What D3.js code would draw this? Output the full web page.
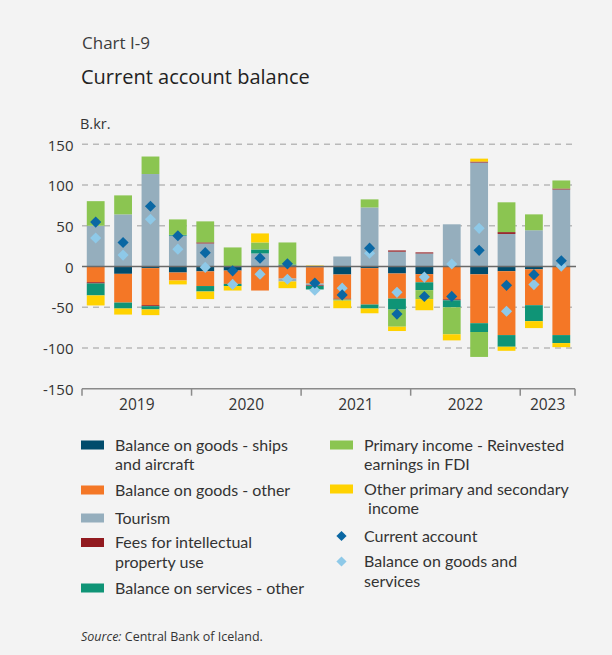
<!DOCTYPE html>
<html>
<head>
<meta charset="utf-8">
<script src="https://cdn.jsdelivr.net/npm/d3@7/dist/d3.min.js"></script>
<style>
  html, body { margin: 0; padding: 0; background: #f3f3f3; }
  svg { display: block; font-family: "Open Sans", "Noto Sans", sans-serif; }
  .legend text { font-family: Lato, "Open Sans", sans-serif; }
</style>
</head>
<body>
<svg id="chart" width="612" height="655"></svg>
<script>
// Quarterly current account components, B.kr.
const quarters = ["2019Q1","2019Q2","2019Q3","2019Q4","2020Q1","2020Q2","2020Q3","2020Q4",
                  "2021Q1","2021Q2","2021Q3","2021Q4","2022Q1","2022Q2","2022Q3","2022Q4",
                  "2023Q1","2023Q2"];
const years = ["2019","2020","2021","2022","2023"];
const yTicks = [150, 100, 50, 0, -50, -100, -150];

const goodsShips    = [0, -9, -2, -7.4, -6, -5, 0, 0, -1, -9.8, -2, -8.6, -9.4, 0, -9.6, -5.8, -3.5, 0];
const goodsOther    = [-19.3, -35.3, -45.5, -9.8, -18, -16.3, -29.5, -14.8, -20, -29.7, -44.7, -30.8, -10, -40.3, -60, -78.4, -44, -84.2];
const tourism       = [50, 64, 113.5, 37.8, 28.3, 0, 16, -3.6, -2, 12.3, 72.5, 18.2, 16, 51.8, 127.6, 40, 44.5, 94.5];
const ipFees        = [-1.5, 0, -1.2, 0, 1.3, 0, 0, 1.2, -0.8, -1, 0, 1.5, 1.3, -1.2, 1.2, 2.2, 0, 1.2];
const servicesOther = [-14.7, -7.3, -4, 1, -6.7, -2.7, 4.9, 1.3, -4.4, 0, -4.9, -13.5, -9.6, -8.6, -10.8, -14.3, -19.6, -9.8];
const reinvested    = [30.2, 23.3, 21.5, 19, 25.8, 23.4, 8.6, 27, 0, -1.5, 9.9, -21, -11, -33.1, -30.6, 36.6, 19.5, 9.9];
const otherIncome   = [-12.3, -7.4, -7, -4.8, -9.3, -5.5, 11.1, -8.2, 1.2, -9.2, -5.8, -5.3, -13.7, -7.5, 3.6, -5, -8.5, -5];

const currentAccount = [54.5, 29.5, 74, 37.7, 17, -5.3, 10.2, 3.3, -20.3, -34.9, 22.5, -58.4, -36.8, -36.7, 19.8, -23.1, -10, 7];
const goodsServices  = [35, 14, 58, 21.3, -1, -22, -9.4, -15.6, -29, -26.6, 16.4, -31.7, -13, 3, 46.8, -55, -22.2, 0.5];

const seriesNames = ["Balance on goods - ships and aircraft", "Balance on goods - other", "Tourism",
                     "Fees for intellectual property use", "Balance on services - other",
                     "Primary income - Reinvested earnings in FDI", "Other primary and secondary income"];
const seriesValues = [goodsShips, goodsOther, tourism, ipFees, servicesOther, reinvested, otherIncome];
const seriesColors = ["#014c6c", "#f47726", "#95aebd", "#921a1f", "#0f9476", "#8bc551", "#ffd200"];
const caColor = "#0a67a3";
const gsColor = "#8ec9e8";

const svg = d3.select("#chart");
const textColor = "#333333";

// Titles
svg.append("text").attr("x", 82).attr("y", 43).attr("dy", "0.35em")
  .attr("font-size", 17).attr("fill", "#3c3c3c").text("Chart I-9");
svg.append("text").attr("x", 81).attr("y", 77).attr("dy", "0.35em")
  .attr("font-size", 20).attr("fill", "#222").text("Current account balance");
svg.append("text").attr("x", 80).attr("y", 123.5).attr("dy", "0.35em")
  .attr("font-size", 14.5).attr("fill", textColor).text("B.kr.");

// Scales
const x = d3.scaleBand().domain(quarters).range([82, 575]).paddingInner(0.35).paddingOuter(0.175);
const y = d3.scaleLinear().domain([-150, 150]).range([388.7, 144.3]);

// Gridlines
const grid = svg.append("g");
grid.selectAll("line").data(yTicks.filter(v => v !== 0 && v !== -150)).join("line")
  .attr("x1", 82).attr("x2", 575)
  .attr("y1", d => y(d)).attr("y2", d => y(d))
  .attr("stroke", "#b9b9b9").attr("stroke-width", 1.5).attr("stroke-dasharray", "6,5");

// Y tick labels
svg.append("g").selectAll("text").data(yTicks).join("text")
  .attr("x", 73.5).attr("y", d => y(d) + 1).attr("dy", "0.35em")
  .attr("text-anchor", "end").attr("font-size", 15).attr("fill", textColor)
  .text(d => d);

// Stacked bars (positives stacked upward, negatives downward)
const table = quarters.map((q, i) => {
  const row = { q };
  seriesNames.forEach((n, k) => { row[n] = seriesValues[k][i]; });
  return row;
});
const stacked = d3.stack().keys(seriesNames).offset(d3.stackOffsetDiverging)(table);

svg.append("g").selectAll("g").data(stacked).join("g")
  .attr("fill", (d, k) => seriesColors[k])
  .selectAll("rect").data(d => d).join("rect")
  .attr("x", d => x(d.data.q))
  .attr("width", x.bandwidth())
  .attr("y", d => y(Math.max(d[0], d[1])))
  .attr("height", d => Math.abs(y(d[0]) - y(d[1])));

// Zero line
svg.append("line").attr("x1", 82).attr("x2", 576).attr("y1", y(0)).attr("y2", y(0))
  .attr("stroke", "#6a6a6a").attr("stroke-width", 1.3);

// Bottom axis with year separators
const gap = (x.step() - x.bandwidth()) / 2;
const yearStarts = [0, 4, 8, 12, 16];
const bounds = yearStarts.map(i => x(quarters[i]) - gap).concat([x.range()[1]]);
const axisY = y(-150);
svg.append("line").attr("x1", bounds[0]).attr("x2", bounds[bounds.length - 1])
  .attr("y1", axisY).attr("y2", axisY).attr("stroke", "#8a8a8a").attr("stroke-width", 1.5);
svg.append("g").selectAll("line").data(bounds).join("line")
  .attr("x1", d => d).attr("x2", d => d).attr("y1", axisY).attr("y2", axisY + 7)
  .attr("stroke", "#8a8a8a").attr("stroke-width", 1.5);
svg.append("g").selectAll("text").data(years).join("text")
  .attr("x", (d, i) => (bounds[i] + bounds[i + 1]) / 2)
  .attr("y", 405).attr("dy", "0.35em").attr("text-anchor", "middle")
  .attr("font-size", 15.5).attr("fill", textColor).text(d => d);

// Diamond markers
const diamond = d3.symbol(d3.symbolSquare, 62);
function markers(values, color) {
  svg.append("g").selectAll("path").data(values).join("path")
    .attr("d", diamond)
    .attr("transform", (d, i) => `translate(${x(quarters[i]) + x.bandwidth() / 2},${y(d)}) rotate(45)`)
    .attr("fill", color);
}
markers(goodsServices, gsColor);
markers(currentAccount, caColor);

// Legend
const legendFont = 16;
const lineGap = 19.4;
const legendItems = [
  { col: 0, y: 445, lines: ["Balance on goods - ships", "and aircraft"], k: 0 },
  { col: 0, y: 490, lines: ["Balance on goods - other"], k: 1 },
  { col: 0, y: 518, lines: ["Tourism"], k: 2 },
  { col: 0, y: 542.5, lines: ["Fees for intellectual", "property use"], k: 3 },
  { col: 0, y: 588, lines: ["Balance on services - other"], k: 4 },
  { col: 1, y: 445, lines: ["Primary income - Reinvested", "earnings in FDI"], k: 5 },
  { col: 1, y: 489, lines: ["Other primary and secondary", "\u00a0income"], k: 6 },
  { col: 1, y: 536, lines: ["Current account"], marker: caColor },
  { col: 1, y: 561.5, lines: ["Balance on goods and", "services"], marker: gsColor }
];
const colX = [81, 330];
const legend = svg.append("g").attr("class", "legend");
legendItems.forEach(item => {
  const g = legend.append("g");
  const sx = colX[item.col];
  if (item.marker) {
    g.append("path").attr("d", d3.symbol(d3.symbolSquare, 52))
      .attr("transform", `translate(${sx + 11.5},${item.y}) rotate(45)`)
      .attr("fill", item.marker);
  } else {
    g.append("rect").attr("x", sx).attr("y", item.y - 4.5).attr("width", 23).attr("height", 9)
      .attr("fill", seriesColors[item.k]);
  }
  // each entry is one text block; wrapped lines are tspans
  g.append("text").attr("font-size", legendFont).attr("fill", textColor)
    .selectAll("tspan").data(item.lines).join("tspan")
    .attr("x", sx + 34).attr("y", (d, i) => item.y + i * lineGap).attr("dy", "0.35em")
    .text(d => d);
});

// Source note
const src = svg.append("text").attr("x", 81).attr("y", 636.5).attr("dy", "0.35em")
  .attr("font-size", 12.5).attr("fill", textColor);
src.append("tspan").attr("font-style", "italic").text("Source:");
src.append("tspan").text(" Central Bank of Iceland.");
</script>
</body>
</html>
